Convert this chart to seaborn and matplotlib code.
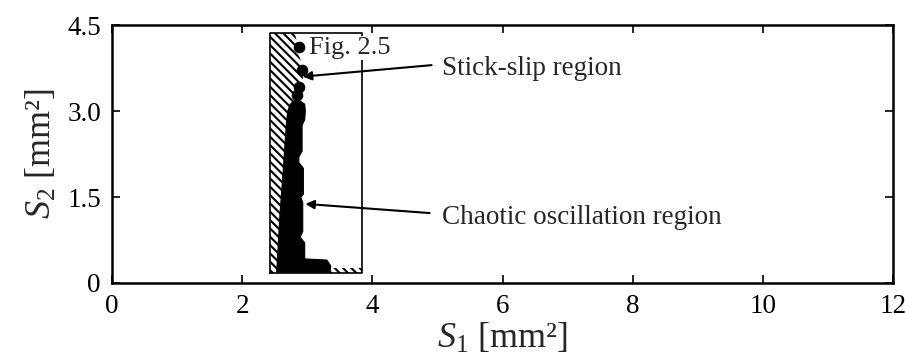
import matplotlib
matplotlib.use("Agg")
import matplotlib.pyplot as plt
import seaborn as sns

# Axis ticks
x_ticks = [0, 2, 4, 6, 8, 10, 12]
x_tick_labels = ["0", "2", "4", "6", "8", "10", "12"]
y_ticks = [0, 1.5, 3.0, 4.5]
y_tick_labels = ["0", "1.5", "3.0", "4.5"]

# Region of Fig. 2.5 (outline box)
box_s1 = [2.43, 3.84, 3.84, 2.43, 2.43]
box_s2 = [0.17, 0.17, 4.36, 4.36, 0.17]

# Stick-slip region (hatched): left strip and upper part
stick_s1 = [2.43, 2.43, 2.81, 2.84, 2.86, 2.91, 2.95, 2.92, 2.85, 2.80,
            2.74, 2.68, 2.65, 2.62, 2.58, 2.55, 2.53]
stick_s2 = [0.17, 4.36, 4.36, 4.20, 4.00, 3.85, 3.65, 3.50, 3.35, 3.20,
            3.05, 2.80, 2.30, 1.80, 1.20, 0.60, 0.17]

# Stick-slip region (hatched): strip along the bottom edge
stick_low_s1 = [3.35, 3.84, 3.84, 3.35]
stick_low_s2 = [0.17, 0.17, 0.26, 0.26]

# Chaotic oscillation region (solid)
chaos_s1 = [2.53, 2.55, 2.58, 2.62, 2.65, 2.68, 2.70, 2.74, 2.80, 2.88,
            2.96, 2.97, 2.96, 2.92, 2.92, 2.87, 2.87, 2.94, 2.94, 2.90,
            2.93, 2.93, 2.89, 2.96, 2.96, 3.30, 3.36, 3.35]
chaos_s2 = [0.19, 0.60, 1.20, 1.80, 2.30, 2.80, 3.00, 3.12, 3.18, 3.18,
            3.12, 3.00, 2.85, 2.75, 2.30, 2.20, 2.10, 2.00, 1.55, 1.50,
            1.40, 0.90, 0.80, 0.70, 0.42, 0.40, 0.30, 0.19]

# Isolated chaotic points inside the stick-slip area
dots_s1 = [2.88, 2.92, 2.88, 2.84]
dots_s2 = [4.12, 3.72, 3.42, 3.28]

sns.set_style("ticks")
plt.rcParams["font.family"] = ["Liberation Serif", "DejaVu Serif"]
plt.rcParams["mathtext.fontset"] = "custom"
plt.rcParams["mathtext.rm"] = "Liberation Serif"
plt.rcParams["mathtext.it"] = "Liberation Serif:italic"
plt.rcParams["hatch.linewidth"] = 1.5

fig = plt.figure(figsize=(9.05, 3.63), dpi=100)
ax = fig.add_axes([0.1238, 0.2204, 0.863, 0.7107])

ax.fill(stick_s1, stick_s2, facecolor="white", edgecolor="black",
        hatch="\\\\\\\\", lw=0, zorder=2)
ax.fill(stick_low_s1, stick_low_s2, facecolor="white", edgecolor="black",
        hatch="\\\\\\\\", lw=0, zorder=2)
ax.fill(chaos_s1, chaos_s2, facecolor="black", edgecolor="black",
        lw=0.8, zorder=3)
sns.scatterplot(x=dots_s1, y=dots_s2, color="black", s=60,
                edgecolor="black", ax=ax, zorder=3)
sns.lineplot(x=box_s1, y=box_s2, sort=False, estimator=None,
             color="black", lw=1.2, ax=ax, zorder=4)

ax.text(3.03, 4.10, "Fig. 2.5", ha="left", va="center", fontsize=19,
        bbox=dict(facecolor="white", edgecolor="none", pad=1), zorder=5)

arrow = dict(arrowstyle="-|>", color="black", lw=1.5,
             mutation_scale=13, shrinkA=0, shrinkB=0)
ax.annotate("", xy=(2.93, 3.60), xytext=(4.91, 3.80), arrowprops=arrow,
            zorder=6)
ax.annotate("", xy=(2.97, 1.38), xytext=(4.88, 1.22), arrowprops=arrow,
            zorder=6)
ax.text(5.07, 3.75, "Stick-slip region", ha="left", va="center",
        fontsize=19.5)
ax.text(5.07, 1.15, "Chaotic oscillation region", ha="left", va="center",
        fontsize=19.5)

ax.set_xlim(0, 12)
ax.set_ylim(0, 4.5)
ax.set_xticks(x_ticks, x_tick_labels)
ax.set_yticks(y_ticks, y_tick_labels)
ax.tick_params(direction="in", length=6, width=1.2, labelsize=19.5,
               top=True, right=True, colors="black")
ax.tick_params(axis="x", pad=8)
ax.tick_params(axis="y", pad=8)
for sp in ax.spines.values():
    sp.set_linewidth(1.8)
    sp.set_color("black")

ax.set_xlabel(r"$S_1$ [mm²]", fontsize=26, labelpad=2)
ax.set_ylabel(r"$S_2$ [mm²]", fontsize=26, labelpad=6)

fig.savefig("out.png", dpi=100)
